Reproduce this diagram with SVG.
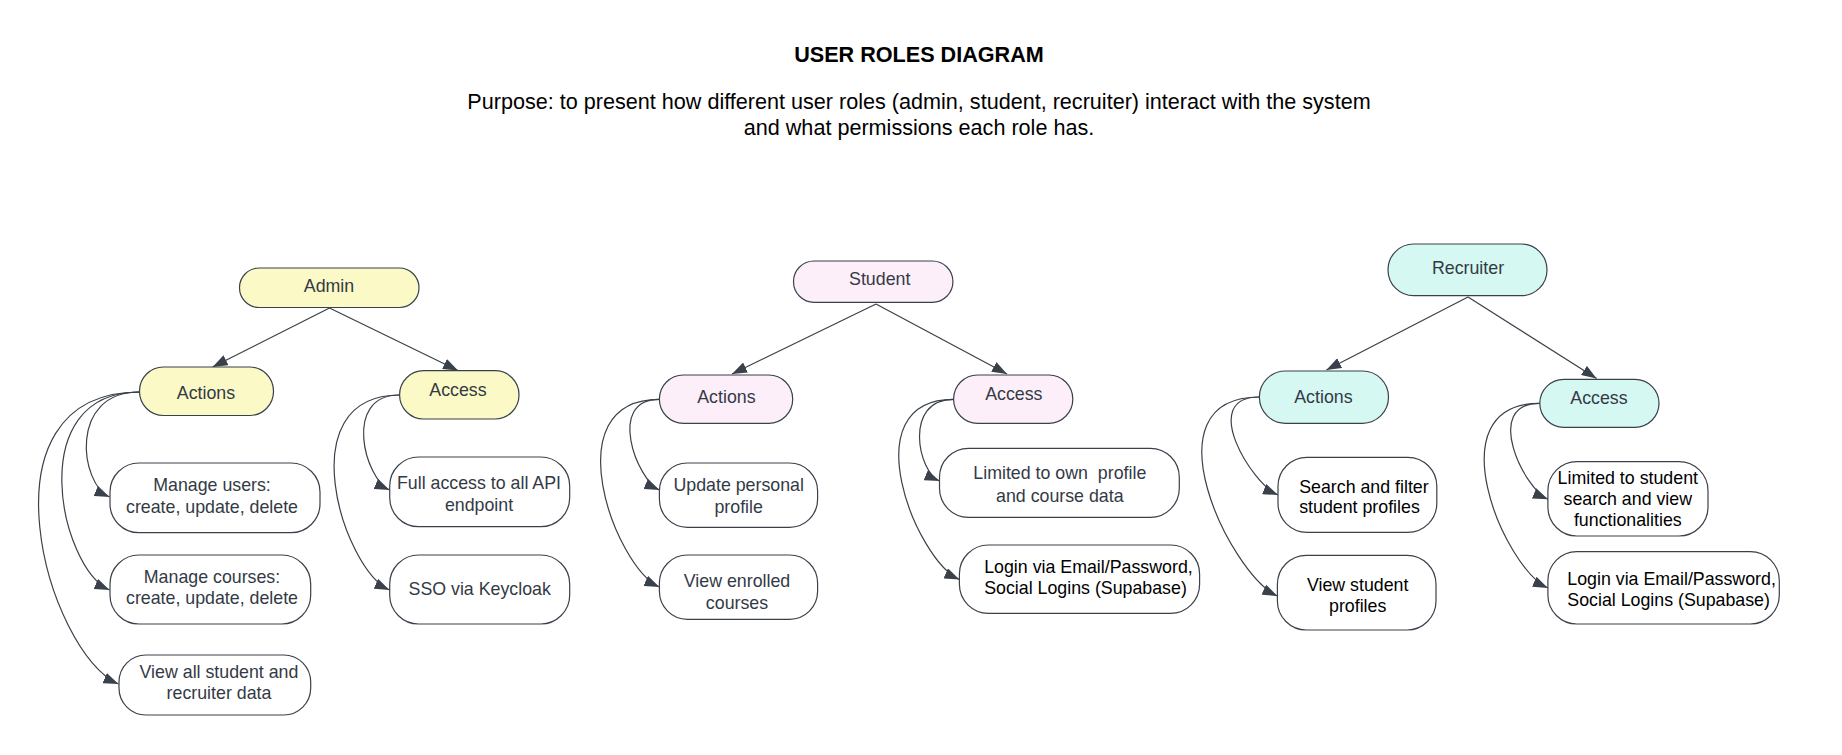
<svg xmlns="http://www.w3.org/2000/svg" width="1842" height="755" viewBox="0 0 1842 755">
<style>
  .bg{fill:#ffffff}
  .title{font-family:"Liberation Sans",Arial,sans-serif;font-size:21.6px;font-weight:bold;fill:#000;text-anchor:middle}
  .sub{font-family:"Liberation Sans",Arial,sans-serif;font-size:21.6px;fill:#000;text-anchor:middle}
  .box{stroke:#3a414a;stroke-width:1.2}
  .admin{fill:#fbf9c5}
  .student{fill:#fdeffa}
  .recruiter{fill:#d5f8f2}
  .plain{fill:#ffffff}
  .t{font-family:"Liberation Sans",Arial,sans-serif;font-size:17.8px;fill:#333a45;text-anchor:middle}
  .k{fill:#000}
  .l{text-anchor:start}
  .conn path,.conn line{fill:none;stroke:#3a414a;stroke-width:1.2;marker-end:url(#arr)}
</style>
<defs>
  <marker id="arr" markerUnits="userSpaceOnUse" markerWidth="15" markerHeight="11" refX="15" refY="5.5" orient="auto">
    <path d="M0,0 L15,5.5 L0,11 Z" fill="#3a414a"/>
  </marker>
</defs>
<rect class="bg" x="0" y="0" width="1842" height="755"/>

<g id="title">
  <text class="title" x="919" y="62">USER ROLES DIAGRAM</text>
  <text class="sub" x="919" y="109">Purpose: to present how different user roles (admin, student, recruiter) interact with the system</text>
  <text class="sub" x="919" y="135">and what permissions each role has.</text>
</g>

<g class="conn" id="connectors">
  <line x1="329.5" y1="308" x2="212.6" y2="367"/>
  <line x1="329.5" y1="308" x2="458" y2="370.5"/>
  <path d="M139.5,392 C68,392 80,484 109.5,497"/>
  <path d="M139.5,392 C22,392 60,568 109.5,590"/>
  <path d="M139.5,392 C-28,392 48,654 118.5,684"/>
  <path d="M399.6,395 C342,395 365,479 389.5,490"/>
  <path d="M399.6,395 C288,395 343,569 389.5,590"/>

  <line x1="876" y1="304" x2="732" y2="374"/>
  <line x1="876" y1="304" x2="1007" y2="374"/>
  <path d="M659.4,399.3 C606,399.3 637,480 659.4,490"/>
  <path d="M659.4,399.3 C553,399.3 615,567 659.4,587"/>
  <path d="M953.6,399.3 C903,399.3 918,472 939.5,481"/>
  <path d="M953.6,399.3 C851,399.3 916,560 959.4,579.5"/>

  <line x1="1468" y1="297" x2="1326.4" y2="370"/>
  <line x1="1468" y1="297" x2="1596.6" y2="378.5"/>
  <path d="M1259.4,397 C1198,397 1252,484 1278,495"/>
  <path d="M1259.4,397 C1144,397 1230,574 1277.4,596"/>
  <path d="M1539.8,403.3 C1482,403.3 1524,489 1547.9,499.3"/>
  <path d="M1539.8,403.3 C1434,403.3 1504,568 1547.9,588"/>
</g>

<g id="admin">
  <rect class="box admin" x="239.5" y="268" width="179.5" height="39.5" rx="19.75"/>
  <text class="t" x="329" y="291.5">Admin</text>
</g>
<g id="admin-actions">
  <rect class="box admin" x="139.5" y="367" width="134" height="48.5" rx="24"/>
  <text class="t" x="206" y="398.7">Actions</text>
</g>
<g id="admin-access">
  <rect class="box admin" x="399.6" y="370.7" width="119.4" height="48.3" rx="24"/>
  <text class="t" x="458" y="396">Access</text>
</g>
<g id="admin-manage-users">
  <rect class="box plain" x="110" y="463" width="210" height="69.7" rx="29"/>
  <text class="t" x="212" y="491">Manage users:</text>
  <text class="t" x="212" y="512.7">create, update, delete</text>
</g>
<g id="admin-manage-courses">
  <rect class="box plain" x="110" y="555" width="200.7" height="69" rx="29"/>
  <text class="t" x="212" y="582.7">Manage courses:</text>
  <text class="t" x="212" y="604.3">create, update, delete</text>
</g>
<g id="admin-view-all">
  <rect class="box plain" x="119" y="655" width="191.7" height="60" rx="27"/>
  <text class="t" x="219" y="677.7">View all student and</text>
  <text class="t" x="219" y="699.3">recruiter data</text>
</g>
<g id="admin-full-access">
  <rect class="box plain" x="389.7" y="457" width="180" height="69.7" rx="29"/>
  <text class="t" x="479" y="489">Full access to all API</text>
  <text class="t" x="479" y="511">endpoint</text>
</g>
<g id="admin-sso">
  <rect class="box plain" x="389.7" y="555" width="180" height="69" rx="29"/>
  <text class="t" x="479.7" y="595">SSO via Keycloak</text>
</g>

<g id="student">
  <rect class="box student" x="793.5" y="261" width="159.4" height="41.3" rx="20.6"/>
  <text class="t" x="879.7" y="285.3">Student</text>
</g>
<g id="student-actions">
  <rect class="box student" x="659.4" y="375" width="133.3" height="48.3" rx="24"/>
  <text class="t" x="726.4" y="402.7">Actions</text>
</g>
<g id="student-access">
  <rect class="box student" x="953.6" y="375" width="119.2" height="48.3" rx="24"/>
  <text class="t" x="1013.8" y="400">Access</text>
</g>
<g id="student-update">
  <rect class="box plain" x="659.4" y="463" width="158.2" height="64.3" rx="28"/>
  <text class="t" x="738.7" y="491">Update personal</text>
  <text class="t" x="738.7" y="512.7">profile</text>
</g>
<g id="student-view-enrolled">
  <rect class="box plain" x="659.4" y="555" width="158.2" height="64.3" rx="28"/>
  <text class="t" x="737" y="587">View enrolled</text>
  <text class="t" x="737" y="609.3">courses</text>
</g>
<g id="student-limited">
  <rect class="box plain" x="939.5" y="448.3" width="239.8" height="69" rx="29"/>
  <text class="t" x="1059.8" y="479.3" xml:space="preserve">Limited to own  profile</text>
  <text class="t" x="1059.8" y="501.7">and course data</text>
</g>
<g id="student-login">
  <rect class="box plain" x="959.4" y="545" width="240.2" height="68.3" rx="29"/>
  <text class="t k l" x="984.2" y="573.3">Login via Email/Password,</text>
  <text class="t k l" x="984.2" y="594.3">Social Logins (Supabase)</text>
</g>

<g id="recruiter">
  <rect class="box recruiter" x="1388" y="244" width="159" height="51.7" rx="25.8"/>
  <text class="t" x="1468" y="273.7">Recruiter</text>
</g>
<g id="recruiter-actions">
  <rect class="box recruiter" x="1259.4" y="371" width="129.1" height="52.3" rx="26"/>
  <text class="t" x="1323.4" y="402.7">Actions</text>
</g>
<g id="recruiter-access">
  <rect class="box recruiter" x="1539.8" y="379.3" width="119.2" height="48" rx="24"/>
  <text class="t" x="1599" y="404.3">Access</text>
</g>
<g id="recruiter-search">
  <rect class="box plain" x="1278" y="457.3" width="158.8" height="75" rx="29"/>
  <text class="t k l" x="1299.2" y="492.7">Search and filter</text>
  <text class="t k l" x="1299.2" y="513.3">student profiles</text>
</g>
<g id="recruiter-view-student">
  <rect class="box plain" x="1277.4" y="555.3" width="158.6" height="74.7" rx="29"/>
  <text class="t k" x="1357.7" y="591">View student</text>
  <text class="t k" x="1357.7" y="611.7">profiles</text>
</g>
<g id="recruiter-limited">
  <rect class="box plain" x="1547.9" y="461.7" width="160.1" height="74.3" rx="29"/>
  <text class="t k" x="1627.8" y="484.3">Limited to student</text>
  <text class="t k" x="1627.8" y="505.3">search and view</text>
  <text class="t k" x="1627.8" y="526">functionalities</text>
</g>
<g id="recruiter-login">
  <rect class="box plain" x="1547.9" y="551.7" width="231.4" height="72.3" rx="29"/>
  <text class="t k l" x="1567.3" y="585.3">Login via Email/Password,</text>
  <text class="t k l" x="1567.3" y="606">Social Logins (Supabase)</text>
</g>
</svg>
